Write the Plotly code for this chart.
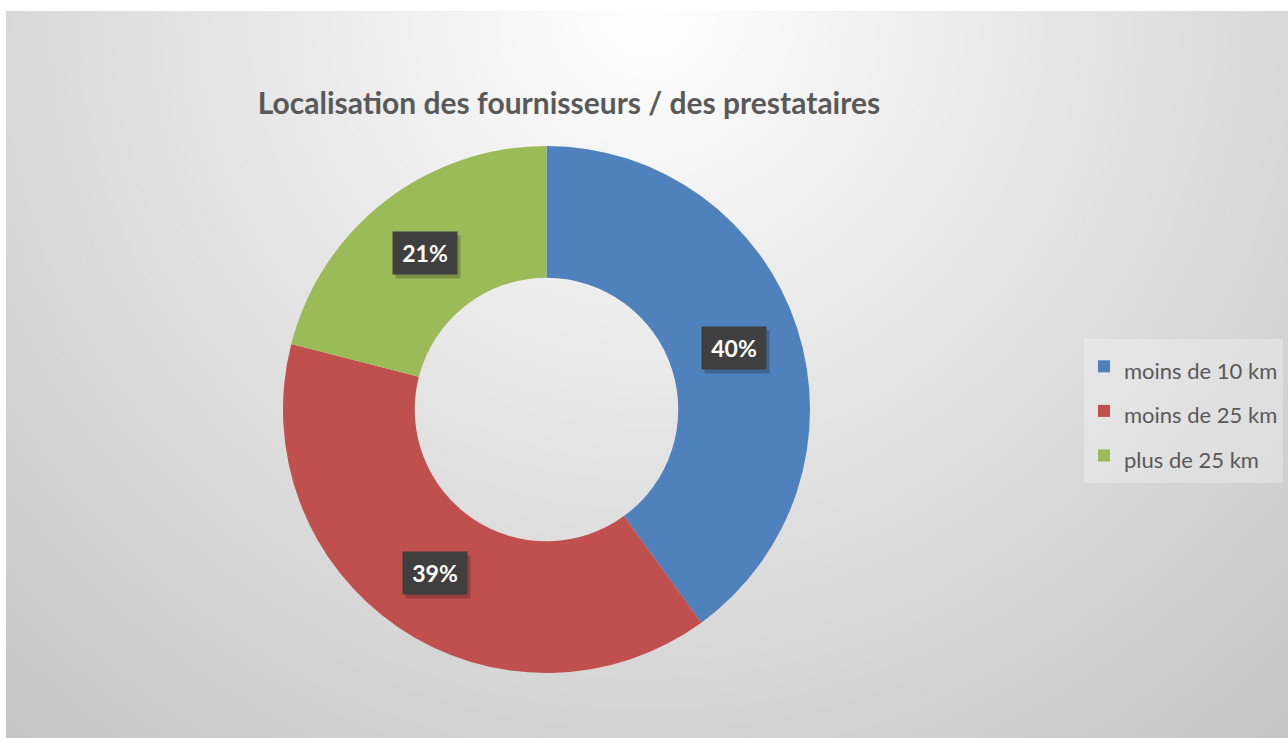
import base64
import math
import struct
import zlib

import numpy as np
import plotly.graph_objects as go

# ---- data -------------------------------------------------------------
categories = ["moins de 10 km", "moins de 25 km", "plus de 25 km"]
values = [40, 39, 21]
colors = ["#4F81BD", "#C0504D", "#9BBB59"]
title_text = "Localisation des fournisseurs / des prestataires"

# ---- page geometry ----------------------------------------------------
W, H = 1288, 738
AREA_X0, AREA_Y0 = 6, 11          # top-left of the chart area (px)
DOMAIN_X = [0.2197, 0.6289]
DOMAIN_Y = [0.0881, 0.8022]
HOLE = 0.5
FONT = "Lato"


def png_gray(arr):
    """Encode a 2-D uint8 array as a greyscale PNG."""
    h, w = arr.shape
    raw = b"".join(b"\x00" + arr[i].tobytes() for i in range(h))

    def chunk(tag, data):
        c = struct.pack(">I", len(data)) + tag + data
        return c + struct.pack(">I", zlib.crc32(tag + data) & 0xFFFFFFFF)

    ihdr = struct.pack(">IIBBBBB", w, h, 8, 0, 0, 0, 0)
    return (b"\x89PNG\r\n\x1a\n" + chunk(b"IHDR", ihdr)
            + chunk(b"IDAT", zlib.compress(raw, 9)) + chunk(b"IEND", b""))


# radial grey gradient for the chart area, lightest at the top centre
gw, gh = W - AREA_X0, H - AREA_Y0
yy, xx = np.mgrid[0:gh, 0:gw].astype(float)
dist = np.sqrt((xx - (646 - AREA_X0)) ** 2 + yy ** 2)
shade = 255 - 60 * np.clip(dist / 1000.0, 0, 1)
bg_png = base64.b64encode(png_gray(shade.astype(np.uint8))).decode()

fig = go.Figure()
fig.add_trace(go.Pie(
    labels=[f'<span style="font-size:22px">{c}</span>' for c in categories],
    values=values,
    marker=dict(colors=colors, line=dict(width=0)),
    hole=HOLE,
    sort=False,
    direction="clockwise",
    rotation=0,
    textinfo="none",
    hoverinfo="label+percent",
    domain=dict(x=DOMAIN_X, y=DOMAIN_Y),
    showlegend=True,
))

# percentage badges placed at the middle of each ring segment
cx = (DOMAIN_X[0] + DOMAIN_X[1]) / 2 * W
cy = (1 - (DOMAIN_Y[0] + DOMAIN_Y[1]) / 2) * H
R = min((DOMAIN_X[1] - DOMAIN_X[0]) * W, (DOMAIN_Y[1] - DOMAIN_Y[0]) * H) / 2
r_mid = R * (1 + HOLE) / 2
total = sum(values)
annotations = []
cum = 0
for v in values:
    theta = 2 * math.pi * (cum + v / 2) / total
    cum += v
    px = cx + r_mid * math.sin(theta)
    py = cy - r_mid * math.cos(theta)
    label = f"{round(100 * v / total)}%"
    common = dict(xref="paper", yref="paper", x=px / W, y=1 - py / H,
                  xanchor="center", yanchor="middle", showarrow=False,
                  width=62, height=40, align="center", valign="middle")
    # soft drop shadow
    annotations.append(dict(text=" ", bgcolor="rgba(0,0,0,0.22)",
                            xshift=3, yshift=-4, **common))
    annotations.append(dict(text=f"<b>{label}</b>", bgcolor="#3F3F3F",
                            font=dict(family=FONT, size=23, color="white"),
                            **common))

fig.update_layout(
    width=W, height=H,
    margin=dict(l=0, r=0, t=0, b=0),
    paper_bgcolor="white",
    plot_bgcolor="white",
    title=dict(text=f"<b>{title_text}</b>", x=569 / W, xanchor="center",
               y=1 - 103 / H, yanchor="middle",
               font=dict(family=FONT, size=30, color="#595959")),
    legend=dict(x=1084 / W, xanchor="left", y=1 - 339 / H, yanchor="top",
                bgcolor="rgba(255,255,255,0.28)", borderwidth=0,
                font=dict(family=FONT, size=32, color="#595959"),
                itemwidth=30),
    annotations=annotations,
    images=[dict(source="data:image/png;base64," + bg_png,
                 xref="paper", yref="paper",
                 x=AREA_X0 / W, y=1 - AREA_Y0 / H,
                 sizex=gw / W, sizey=gh / H,
                 xanchor="left", yanchor="top",
                 sizing="stretch", layer="below")],
)

fig.write_html("out.html")
